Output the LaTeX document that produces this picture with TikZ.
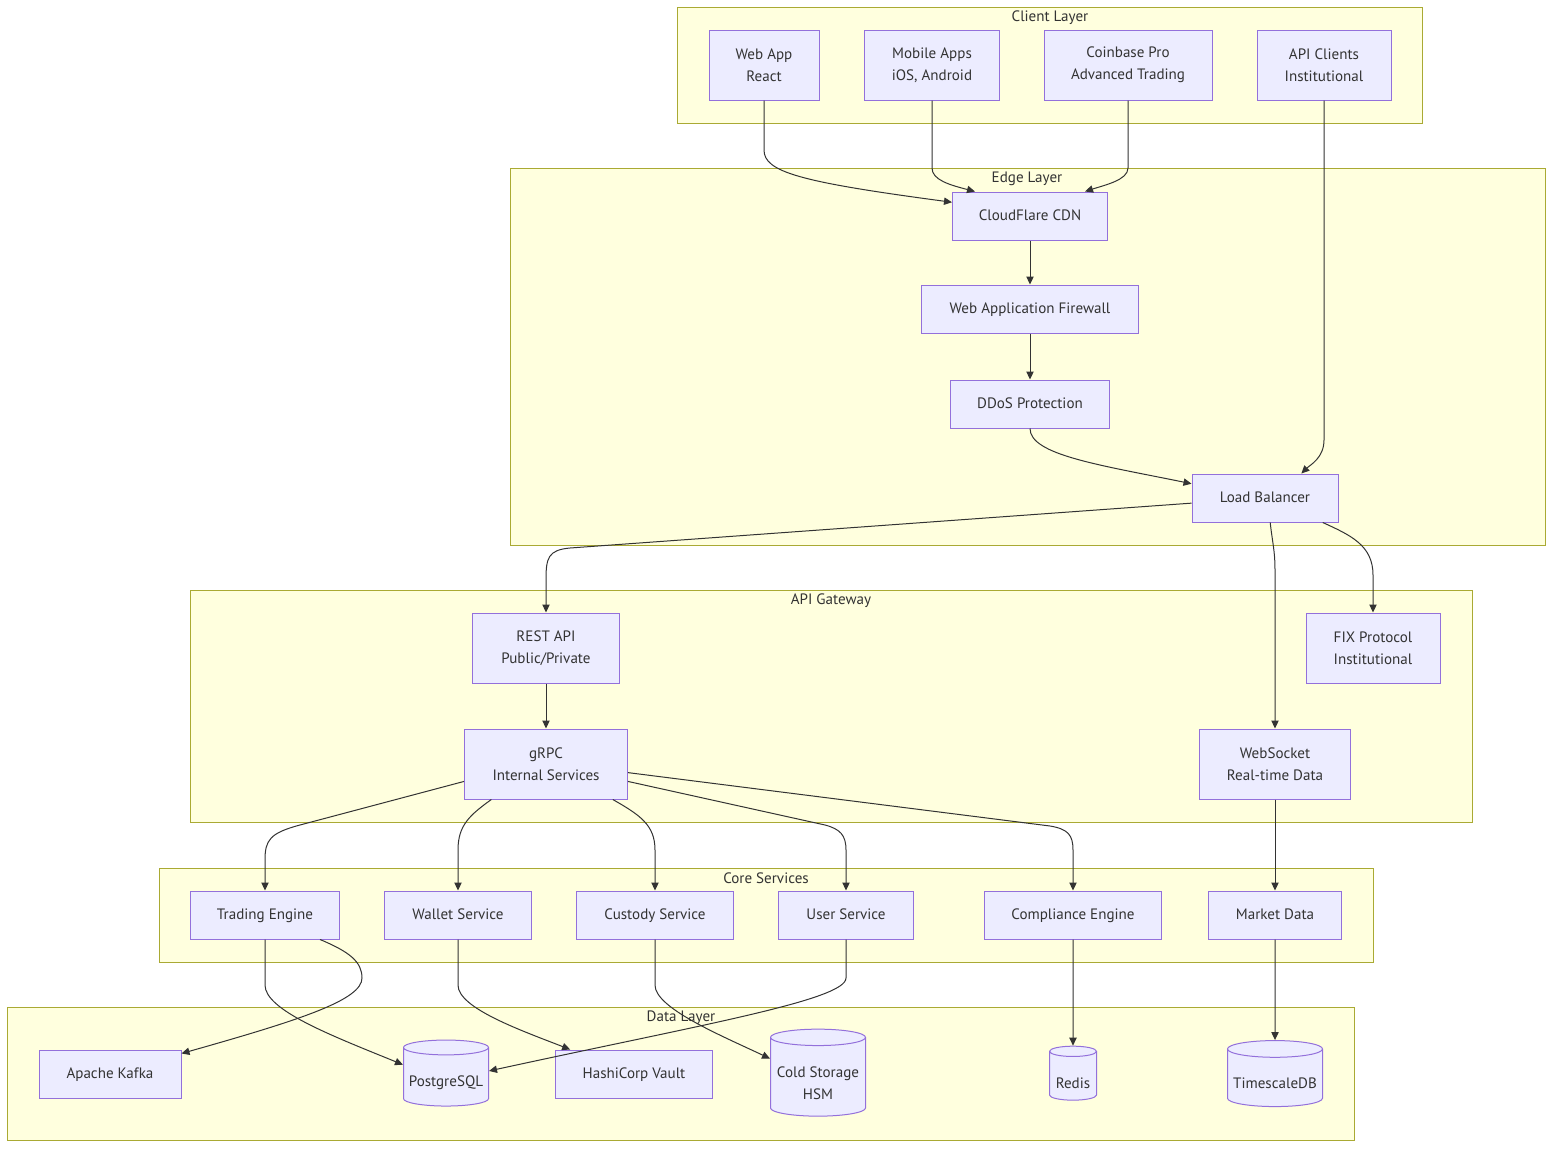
\documentclass[tikz,border=0pt]{standalone}
\usepackage{fontspec}
\setmainfont{PT Sans}
\usetikzlibrary{shapes.geometric,arrows.meta}
\definecolor{layerfill}{HTML}{FFFFDE}
\definecolor{layerline}{HTML}{AAAA33}
\definecolor{boxfill}{HTML}{ECECFF}
\definecolor{boxline}{HTML}{9370DB}
\definecolor{edgeline}{HTML}{333333}
\tikzset{
  layer/.style={draw=layerline, fill=layerfill, line width=0.75pt},
  title/.style={text=edgeline, inner sep=0pt},
  box/.style={draw=boxline, fill=boxfill, line width=0.75pt, text=edgeline, align=center,
    minimum width=#1*0.75pt, minimum height=36pt, inner sep=0pt, text height=9.7pt, text depth=2.6pt},
  tallbox/.style={box=#1, minimum height=52.5pt, text height=, text depth=},
  store/.style 2 args={cylinder, shape border rotate=90, aspect=0.2, draw=boxline, fill=boxfill,
    line width=0.75pt, align=center, inner sep=0pt, minimum width=#1*0.75pt, minimum height=#2*0.75pt},
  storetext/.style={text=edgeline, align=center, inner sep=0pt},
  edge/.style={->, draw=edgeline, line width=0.75pt},
  >={Triangle[length=6pt,width=5.5pt]}
}
\begin{document}
\begin{tikzpicture}[x=0.75pt, y=-0.75pt, every node/.style={font=\fontsize{11.3}{16.5}\selectfont}]
\useasboundingbox (0,0) rectangle (1568,1160);
\draw[layer] (677,7) rectangle (1422,123);
\draw[layer] (510,168) rectangle (1545,545);
\draw[layer] (190,590) rectangle (1472,822);
\draw[layer] (159,868) rectangle (1373,962);
\draw[layer] (7,1007) rectangle (1354,1140);
\node[title] (clientT) at (1050,18) {Client Layer};
\node[title] (edgeT) at (1027,179) {Edge Layer};
\node[title] (gatewayT) at (831,601) {API Gateway};
\node[title] (coreT) at (766,878) {Core Services};
\node[title] (dataT) at (681,1018) {Data Layer};
\node[tallbox=110] (web) at (764,65) {Web App\\React};
\node[tallbox=135] (mobile) at (932,65) {Mobile Apps\\iOS, Android};
\node[tallbox=168] (pro) at (1128,65) {Coinbase Pro\\Advanced Trading};
\node[tallbox=134] (apicl) at (1324,65) {API Clients\\Institutional};
\node[box=155] (cdn) at (1030,216) {CloudFlare CDN};
\node[box=217] (waf) at (1030,309) {Web Application Firewall};
\node[box=159] (ddos) at (1030,404) {DDoS Protection};
\node[box=146] (lb) at (1265,498) {Load Balancer};
\node[tallbox=147] (rest) at (546,648) {REST API\\Public/Private};
\node[tallbox=163] (grpc) at (546,764) {gRPC\\Internal Services};
\node[tallbox=151] (ws) at (1275,764) {WebSocket\\Real-time Data};
\node[tallbox=134] (fix) at (1373,648) {FIX Protocol\\Institutional};
\node[box=149] (trade) at (265,915) {Trading Engine};
\node[box=147] (wallet) at (458,915) {Wallet Service};
\node[box=157] (custody) at (655,915) {Custody Service};
\node[box=135] (user) at (846,915) {User Service};
\node[box=177] (comply) at (1073,915) {Compliance Engine};
\node[box=133] (market) at (1275,915) {Market Data};
\node[box=142] (kafka) at (110,1074) {Apache Kafka};
\node[store={85}{66}] (pg) at (446,1077) {\phantom{PostgreSQL}};
\node[storetext] (pgT) at (446,1083) {PostgreSQL};
\node[box=157] (vault) at (634,1074) {HashiCorp Vault};
\node[store={95}{87}] (cold) at (818,1077) {\phantom{Cold Storage}\\\phantom{HSM}};
\node[storetext] (coldT) at (818,1083) {Cold Storage\\HSM};
\node[store={47}{54}, aspect=0.3] (redis) at (1073,1076) {\phantom{Redis}};
\node[storetext] (redisT) at (1073,1083) {Redis};
\node[store={95}{66}] (tsdb) at (1275,1078) {\phantom{TimescaleDB}};
\node[storetext] (tsdbT) at (1275,1083) {TimescaleDB};
\draw[edge] (web.south) -- (764,150) .. controls (764,172) and (800,182) .. (cdn.170);
\draw[edge] (mobile.south) -- (932,168) .. controls (932,180) and (950,185) .. (cdn.156);
\draw[edge] (pro.south) -- (1128,168) .. controls (1128,180) and (1105,185) .. (cdn.24);
\draw[edge] (apicl.south) -- (1324,440) .. controls (1324,458) and (1310,465) .. (lb.34);
\draw[edge] (cdn) -- (waf);
\draw[edge] (waf) -- (ddos);
\draw[edge] (ddos.south) .. controls (1030,455) and (1100,465) .. (lb.169);
\draw[edge] (lb.184) -- (570,548) .. controls (548,550) and (546,558) .. (546,580) -- (rest.north);
\draw[edge] (lb.-78) .. controls (1272,540) and (1275,550) .. (1275,570) -- (ws.north);
\draw[edge] (lb.-23) .. controls (1350,535) and (1373,545) .. (1373,575) -- (fix.north);
\draw[edge] (rest) -- (grpc);
\draw[edge] (grpc.192) -- (300,825) .. controls (270,833) and (265,840) .. (265,860) -- (trade.north);
\draw[edge] (grpc.213) .. controls (470,815) and (458,825) .. (458,850) -- (wallet.north);
\draw[edge] (grpc.-28) .. controls (640,815) and (655,825) .. (655,850) -- (custody.north);
\draw[edge] (grpc.-12) -- (825,825) .. controls (840,829) and (846,835) .. (846,850) -- (user.north);
\draw[edge] (grpc.-6) -- (1050,826) .. controls (1068,829) and (1073,835) .. (1073,850) -- (comply.north);
\draw[edge] (ws) -- (market);
\draw[edge] (trade.-24) .. controls (350,952) and (362,962) .. (362,978) .. controls (362,1000) and (300,1020) .. (kafka.16);
\draw[edge] (trade.south) -- (265,985) .. controls (265,1010) and (330,1035) .. (pg.164);
\draw[edge] (wallet.south) -- (458,985) .. controls (458,1008) and (520,1030) .. (vault.159);
\draw[edge] (custody.south) -- (655,985) .. controls (655,1008) and (720,1035) .. (cold.159);
\draw[edge] (user.south) -- (846,978) .. controls (846,1000) and (700,1025) .. (pg.8);
\draw[edge] (comply) -- (redis);
\draw[edge] (market) -- (tsdb);
\end{tikzpicture}
\end{document}
